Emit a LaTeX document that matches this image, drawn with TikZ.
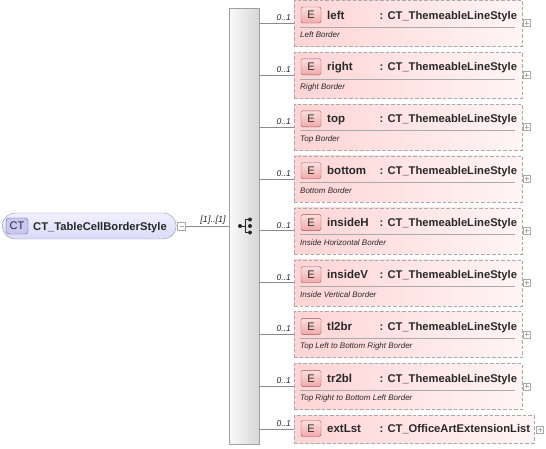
\documentclass[tikz,border=0pt]{standalone}
\usepackage{fontspec}
\setmainfont{Liberation Sans}
\usetikzlibrary{calc}
\definecolor{elL}{RGB}{255,212,212}
\definecolor{elR}{RGB}{255,245,245}
\definecolor{elborder}{RGB}{170,170,170}
\definecolor{bdgT}{RGB}{252,222,222}
\definecolor{bdgB}{RGB}{240,170,170}
\definecolor{bdgborder}{RGB}{165,80,80}
\definecolor{ctT}{RGB}{240,240,255}
\definecolor{ctB}{RGB}{218,218,248}
\definecolor{ctborder}{RGB}{150,150,175}
\definecolor{ctbdg}{RGB}{200,200,240}
\definecolor{ctbdgborder}{RGB}{90,90,160}
\definecolor{seqL}{RGB}{250,250,250}
\definecolor{seqR}{RGB}{214,214,214}
\definecolor{seqborder}{RGB}{160,160,160}
\definecolor{conn}{RGB}{140,140,140}
\definecolor{txt}{RGB}{40,40,40}
\begin{document}
\begin{tikzpicture}[x=1pt,y=-1pt,
  elbox/.style={draw=elborder, dash pattern=on 3.5pt off 2pt, left color=elL, right color=elR,
    minimum width=228, inner sep=0, anchor=north west},
  ebadge/.style={draw=bdgborder, top color=bdgT, bottom color=bdgB, rounded corners=1.5,
    minimum width=20, minimum height=16, inner sep=0, text=txt, font=\fontsize{11}{12}\selectfont},
  nametext/.style={inner sep=0, text=txt, font=\fontsize{11.5}{13}\selectfont\bfseries, anchor=base west},
  typetext/.style={inner sep=0, text=txt, font=\fontsize{11.2}{13}\selectfont\bfseries, anchor=base west},
  doctext/.style={inner sep=0, text=txt, font=\fontsize{8}{9}\selectfont\itshape, anchor=base west},
  mult/.style={inner sep=0, text=txt, font=\fontsize{8.5}{9}\selectfont\itshape, anchor=base east},
  sepline/.style={draw=elborder, line width=0.8pt},
  conline/.style={draw=conn, line width=0.7pt},
  plusbox/.style={draw=elborder, fill=white, minimum size=7, inner sep=0,
    path picture={\draw[elborder, line width=0.6pt]
      ([xshift=-2pt]path picture bounding box.center) -- ([xshift=2pt]path picture bounding box.center)
      ([yshift=-2pt]path picture bounding box.center) -- ([yshift=2pt]path picture bounding box.center);}},
  minusbox/.style={draw=elborder, fill=white, minimum size=8, inner sep=0,
    path picture={\draw[elborder, line width=0.6pt]
      ([xshift=-2pt]path picture bounding box.center) -- ([xshift=2pt]path picture bounding box.center);}},
]
\useasboundingbox (0,0) rectangle (546,448);

% sequence bar
\node[draw=seqborder, left color=seqL, right color=seqR, minimum width=30, minimum height=436,
  inner sep=0, anchor=north west] (seq) at (229,8) {};
% sequence symbol
\fill[txt] (240,226) circle (2);
\draw[txt, line width=0.9pt] (240,226) -- (245,226) (245,219.5) -- (245,232.5)
  (245,219.5) -- (250,219.5) (245,232.5) -- (250,232.5);
\fill[txt] (250,219.5) circle (2) (250,226) circle (2) (250,232.5) circle (2);

% root complex type
\node[draw=ctborder, top color=ctT, bottom color=ctB, rounded corners=13,
  minimum width=174, minimum height=26, inner sep=0, anchor=west] (ct) at (2,226) {};
\node[draw=ctbdgborder, fill=ctbdg, rounded corners=3, minimum width=22, minimum height=16,
  inner sep=0, text=txt, font=\fontsize{11}{12}\selectfont] (ctb) at (17,226) {CT};
\node[typetext] (ctn) at (33,230) {CT\_TableCellBorderStyle};
\node[minusbox] (minus) at (181.5,226.5) {};
\draw[conline] (minus.east) -- (seq.west |- minus.east);
\node[inner sep=0, text=txt, font=\fontsize{9}{10}\selectfont\itshape, anchor=base] (card) at (213,222.5) {[1]..[1]};

% elements
\foreach \k/\nm/\dc in {1/left/Left Border, 2/right/Right Border, 3/top/Top Border,
  4/bottom/Bottom Border, 5/insideH/Inside Horizontal Border, 6/insideV/Inside Vertical Border,
  7/tl2br/Top Left to Bottom Right Border, 8/tr2bl/Top Right to Bottom Left Border}{
  \pgfmathsetmacro\T{51.9*(\k-1)}
  \node[elbox, minimum height=46] (e\k) at (294,\T) {};
  \node[ebadge] (b\k) at (311,\T+15) {E};
  \node[nametext] (n\k) at (327,\T+19) {\nm};
  \node[typetext] (t\k) at (379.5,\T+19) {: CT\_ThemeableLineStyle};
  \draw[sepline] (300,\T+27) -- (515,\T+27);
  \node[doctext] (d\k) at (300,\T+37.5) {\dc};
  \node[plusbox] (p\k) at (526.5,\T+23) {};
  \draw[conline] (seq.east |- e\k.west) -- (e\k.west);
  \node[mult] (m\k) at (291,\T+20.5) {0..1};
}
% extLst
\node[elbox, minimum width=239.5, minimum height=28] (e9) at (294,415.2) {};
\node[ebadge] (b9) at (311,428.5) {E};
\node[nametext] (n9) at (327,432.5) {extLst};
\node[typetext] (t9) at (379.5,432.5) {: CT\_OfficeArtExtensionList};
\node[plusbox] (p9) at (540,429.5) {};
\draw[conline] (seq.east |- e9.west) -- (e9.west);
\node[mult] (m9) at (291,426.5) {0..1};
\end{tikzpicture}
\end{document}
